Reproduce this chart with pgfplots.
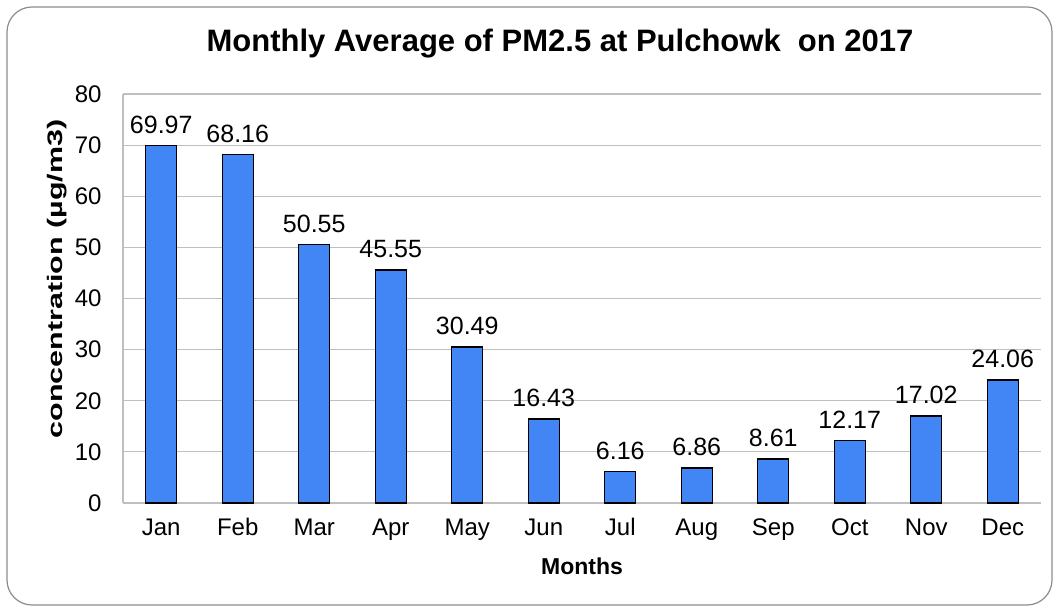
\documentclass[border=0pt]{standalone}
\usepackage{graphicx}
\usepackage{pgfplots}
\pgfplotsset{compat=1.18}
\usepackage{fontspec}
\setmainfont{Liberation Sans}
\definecolor{barblue}{HTML}{4285F4}
\definecolor{gridgray}{HTML}{BFBFBF}
\definecolor{framegray}{HTML}{8C8C8C}
\begin{document}
\begin{tikzpicture}[x=1bp,y=1bp]
\useasboundingbox (0,0) rectangle (1059,609);
\draw[framegray, line width=1.2bp, rounded corners=25bp] (7,4) rectangle (1052,602);
\node[anchor=base, font=\fontsize{31bp}{37bp}\selectfont\bfseries] at (560,557) {Monthly Average of PM2.5 at Pulchowk\ \ on 2017};
\begin{axis}[
  at={(123bp,106bp)}, anchor=south west,
  width=918bp, height=409bp, scale only axis,
  xmin=-0.5, xmax=11.5, ymin=0, ymax=80,
  ytick={0,10,...,80},
  xtick={0,...,11},
  xticklabels={Jan,Feb,Mar,Apr,May,Jun,Jul,Aug,Sep,Oct,Nov,Dec},
  axis x line=bottom, axis y line=left,
  axis line style={gridgray, line width=1.2bp, -},
  major tick length=0pt,
  ymajorgrids, grid style={gridgray, line width=1.2bp},
  tick label style={font=\fontsize{24bp}{28bp}\selectfont},
  /pgf/number format/assume math mode=true,
  yticklabel style={xshift=-18bp},
  xticklabel style={yshift=-12bp},
  ylabel={\scalebox{1.45}[1]{\bfseries concentration (µg/m3)}},
  ylabel style={font=\fontsize{21bp}{25bp}\selectfont, at={(axis description cs:-0.0719,0.548)}, anchor=center},
  xlabel={\bfseries Months},
  xlabel style={font=\fontsize{23bp}{27bp}\selectfont, at={(axis description cs:0.5,0)}, anchor=base, yshift=-72bp},
  ybar, bar width=31bp,
  nodes near coords,
  nodes near coords style={font=\fontsize{25bp}{29bp}\selectfont, /pgf/number format/fixed, /pgf/number format/precision=2, /pgf/number format/fixed zerofill, yshift=8bp, black},
  clip=false,
]
\addplot[fill=barblue, draw=black, line width=1.4bp] coordinates {
(0,69.97) (1,68.16) (2,50.55) (3,45.55) (4,30.49) (5,16.43)
(6,6.16) (7,6.86) (8,8.61) (9,12.17) (10,17.02) (11,24.06)};
\end{axis}
\end{tikzpicture}
\end{document}
